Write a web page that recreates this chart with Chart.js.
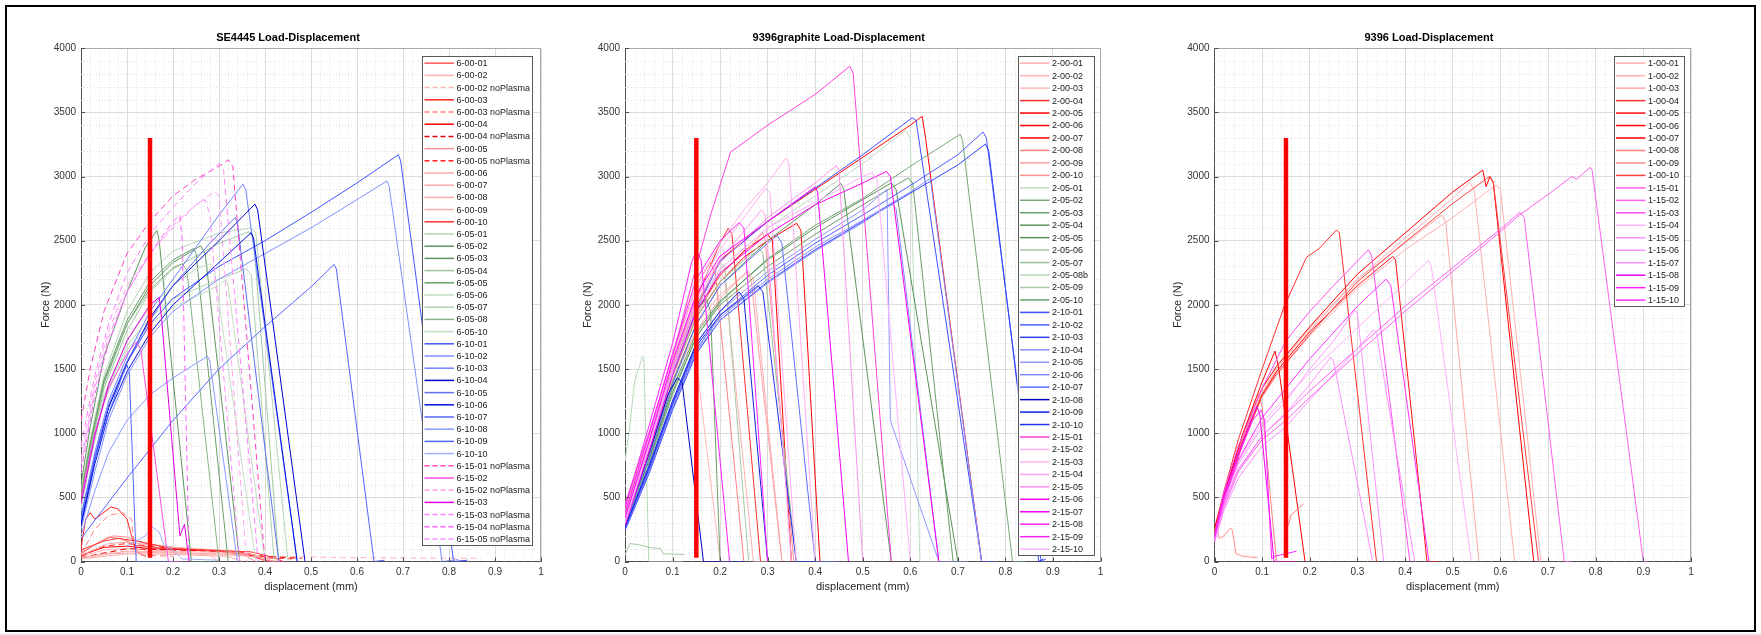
<!DOCTYPE html>
<html><head><meta charset="utf-8">
<script src="https://cdn.jsdelivr.net/npm/chart.js@4.4.1/dist/chart.umd.min.js"></script>
<style>
html,body{margin:0;padding:0;background:#fff;width:1761px;height:635px;overflow:hidden;position:relative;}
#frame{position:absolute;left:5px;top:5px;width:1747px;height:623px;border:2px solid #000;}
#strip{position:absolute;left:0;top:633px;width:1761px;height:2px;background:#eeeeee;}
canvas{position:absolute;top:8px;}
</style></head><body>
<div id="frame"></div><div id="strip"></div>
<canvas id="c1" width="552" height="617" style="left:8px"></canvas>
<canvas id="c2" width="580" height="617" style="left:560px"></canvas>
<canvas id="c3" width="600" height="617" style="left:1150px"></canvas>
<script>
// ---------- axis ticks ----------
const X_TICKS = [0,0.1,0.2,0.3,0.4,0.5,0.6,0.7,0.8,0.9,1];
const Y_TICKS = [0,500,1000,1500,2000,2500,3000,3500,4000];
const MARKER_LINE = [[0.15,30],[0.15,3300]];

// ---------- panel 1 : SE4445 ----------
const P1_TITLE = 'SE4445 Load-Displacement';
const P1_LABELS = ['6-00-01','6-00-02','6-00-02 noPlasma','6-00-03','6-00-03 noPlasma','6-00-04','6-00-04 noPlasma','6-00-05','6-00-05 noPlasma','6-00-06','6-00-07','6-00-08','6-00-09','6-00-10','6-05-01','6-05-02','6-05-03','6-05-04','6-05-05','6-05-06','6-05-07','6-05-08','6-05-10','6-10-01','6-10-02','6-10-03','6-10-04','6-10-05','6-10-06','6-10-07','6-10-08','6-10-09','6-10-10','6-15-01 noPlasma','6-15-02','6-15-02 noPlasma','6-15-03','6-15-03 noPlasma','6-15-04 noPlasma','6-15-05 noPlasma'];
const se_6_00_01 = [[0,60],[0.03,130],[0.06,190],[0.09,175],[0.12,125],[0.2,95],[0.3,80],[0.36,60],[0.4,10],[0.43,0]];
const se_6_00_02 = [[0,40],[0.05,90],[0.1,100],[0.2,80],[0.3,70],[0.38,40],[0.42,0]];
const se_6_00_02np = [[0,30],[0.05,70],[0.1,80],[0.25,60],[0.4,40],[0.6,30],[0.87,25]];
const se_6_00_03 = [[0,100],[0.01,330],[0.02,380],[0.03,330],[0.045,370],[0.065,425],[0.08,410],[0.1,330],[0.11,200],[0.12,80],[0.14,40]];
const se_6_00_03np = [[0,60],[0.03,250],[0.06,360],[0.09,380],[0.11,330],[0.115,150],[0.13,50],[0.2,40]];
const se_6_00_04 = [[0,50],[0.05,110],[0.1,120],[0.15,100],[0.25,90],[0.35,70],[0.39,20],[0.4,0]];
const se_6_00_04np = [[0,30],[0.1,100],[0.2,90],[0.3,80],[0.4,40],[0.48,25]];
const se_6_00_05 = [[0,70],[0.04,150],[0.07,200],[0.1,190],[0.14,140],[0.2,110],[0.3,80],[0.35,60],[0.38,0]];
const se_6_00_05np = [[0,40],[0.05,120],[0.1,140],[0.2,100],[0.35,75],[0.4,30],[0.46,20]];
const se_6_00_06 = [[0,30],[0.05,60],[0.15,70],[0.3,60],[0.4,30],[0.42,0]];
const se_6_00_07 = [[0,20],[0.1,60],[0.2,55],[0.32,40],[0.35,0]];
const se_6_00_08 = [[0,50],[0.06,140],[0.1,150],[0.2,110],[0.3,90],[0.38,50],[0.4,0]];
const se_6_00_09 = [[0,25],[0.1,80],[0.2,75],[0.28,50],[0.3,0]];
const se_6_00_10 = [[0,90],[0.05,160],[0.08,180],[0.12,160],[0.2,100],[0.3,85],[0.37,75],[0.42,30],[0.44,0]];
const se_6_05_01 = [[0,550],[0.02,950],[0.05,1450],[0.1,1950],[0.15,2250],[0.2,2420],[0.3,2560],[0.37,2600],[0.38,2560],[0.45,0]];
const se_6_05_02 = [[0,600],[0.02,1050],[0.05,1600],[0.1,2100],[0.14,2450],[0.165,2580],[0.17,2500],[0.24,0],[0.3,0]];
const se_6_05_03 = [[0,500],[0.02,900],[0.05,1400],[0.1,1850],[0.15,2150],[0.2,2330],[0.26,2460],[0.27,2400],[0.345,0]];
const se_6_05_04 = [[0,450],[0.02,850],[0.05,1350],[0.1,1800],[0.15,2100],[0.2,2280],[0.3,2480],[0.365,2570],[0.375,2520],[0.43,0]];
const se_6_05_05 = [[0,520],[0.02,920],[0.05,1420],[0.1,1880],[0.15,2180],[0.2,2350],[0.245,2440],[0.25,2400],[0.32,0]];
const se_6_05_06 = [[0,400],[0.02,780],[0.05,1250],[0.1,1650],[0.15,1850],[0.2,1980],[0.3,2150],[0.315,2200],[0.32,2150],[0.4,0]];
const se_6_05_07 = [[0,420],[0.02,800],[0.05,1280],[0.1,1680],[0.15,1900],[0.2,2050],[0.3,2200],[0.36,2280],[0.37,2230],[0.42,0]];
const se_6_05_08 = [[0,480],[0.02,880],[0.05,1380],[0.1,1850],[0.15,2120],[0.2,2290],[0.22,2320],[0.23,2270],[0.3,0]];
const se_6_05_10 = [[0,430],[0.02,820],[0.05,1300],[0.1,1720],[0.15,1980],[0.2,2150],[0.25,2280],[0.28,2320],[0.29,2270],[0.38,0]];
const se_6_10_01 = [[0,300],[0.03,800],[0.06,1200],[0.1,1550],[0.15,1850],[0.2,2050],[0.3,2300],[0.4,2500],[0.5,2720],[0.6,2950],[0.69,3170],[0.695,3120],[0.81,0],[0.84,10]];
const se_6_10_02 = [[0,250],[0.03,700],[0.06,1100],[0.1,1450],[0.15,1750],[0.2,1950],[0.3,2200],[0.4,2400],[0.5,2600],[0.6,2820],[0.665,2965],[0.67,2920],[0.785,0],[0.82,15]];
const se_6_10_03 = [[0,350],[0.03,850],[0.06,1250],[0.1,1600],[0.15,1950],[0.2,2200],[0.25,2450],[0.3,2700],[0.352,2940],[0.358,2900],[0.47,0]];
const se_6_10_04 = [[0,300],[0.03,800],[0.06,1200],[0.1,1550],[0.15,1900],[0.2,2150],[0.3,2500],[0.378,2785],[0.384,2740],[0.487,0]];
const se_6_10_05 = [[0,320],[0.03,820],[0.06,1220],[0.1,1560],[0.15,1880],[0.2,2150],[0.28,2480],[0.335,2680],[0.34,2640],[0.43,0]];
const se_6_10_06 = [[0,280],[0.03,760],[0.06,1150],[0.1,1480],[0.15,1780],[0.2,2000],[0.3,2330],[0.37,2563],[0.375,2520],[0.47,0]];
const se_6_10_07 = [[0,180],[0.1,650],[0.2,1100],[0.3,1500],[0.4,1830],[0.5,2140],[0.55,2315],[0.555,2280],[0.637,0],[0.66,10]];
const se_6_10_08 = [[0,200],[0.03,550],[0.06,850],[0.1,1100],[0.15,1300],[0.2,1430],[0.275,1600],[0.28,1560],[0.34,0]];
const se_6_10_09 = [[0,350],[0.03,800],[0.06,1150],[0.09,1450],[0.1,1530],[0.105,1480],[0.12,0],[0.2,0]];
const se_6_10_10 = [[0.1,120],[0.12,160],[0.14,200],[0.155,270],[0.17,230],[0.18,130],[0.2,90],[0.22,20],[0.3,10]];
const se_6_15_01np = [[0,1100],[0.02,1500],[0.05,1950],[0.1,2400],[0.15,2650],[0.2,2850],[0.25,2980],[0.3,3080],[0.32,3130],[0.33,3080],[0.4,0],[0.45,0]];
const se_6_15_02 = [[0,500],[0.03,1000],[0.06,1350],[0.1,1620],[0.12,1710],[0.13,1650],[0.19,0],[0.22,0]];
const se_6_15_02np = [[0,800],[0.03,1400],[0.06,1800],[0.1,2150],[0.15,2400],[0.2,2600],[0.25,2780],[0.29,2880],[0.3,2850],[0.36,0]];
const se_6_15_03 = [[0,450],[0.03,980],[0.06,1380],[0.1,1720],[0.15,2000],[0.17,2060],[0.175,1900],[0.215,200],[0.225,290],[0.235,0]];
const se_6_15_03np = [[0,900],[0.03,1450],[0.06,1850],[0.1,2250],[0.15,2550],[0.2,2760],[0.25,2950],[0.3,3100],[0.31,3050],[0.385,0]];
const se_6_15_04np = [[0,700],[0.03,1300],[0.06,1700],[0.1,2100],[0.15,2400],[0.2,2650],[0.215,2700],[0.22,2500],[0.235,0]];
const se_6_15_05np = [[0,750],[0.03,1350],[0.06,1750],[0.1,2100],[0.15,2400],[0.2,2620],[0.25,2780],[0.27,2820],[0.28,2700],[0.345,0]];
const P1_SERIES = [se_6_00_01,se_6_00_02,se_6_00_02np,se_6_00_03,se_6_00_03np,se_6_00_04,se_6_00_04np,se_6_00_05,se_6_00_05np,se_6_00_06,se_6_00_07,se_6_00_08,se_6_00_09,se_6_00_10,se_6_05_01,se_6_05_02,se_6_05_03,se_6_05_04,se_6_05_05,se_6_05_06,se_6_05_07,se_6_05_08,se_6_05_10,se_6_10_01,se_6_10_02,se_6_10_03,se_6_10_04,se_6_10_05,se_6_10_06,se_6_10_07,se_6_10_08,se_6_10_09,se_6_10_10,se_6_15_01np,se_6_15_02,se_6_15_02np,se_6_15_03,se_6_15_03np,se_6_15_04np,se_6_15_05np];
const P1_STYLE = [['#ff5a5a',0],['#ffb4b4',0],['#ffb4b4',1],['#ff2020',0],['#ff8080',1],['#ff0000',0],['#e00000',1],['#ff9090',0],['#ff2020',1],['#ffaaaa',0],['#ffaaaa',0],['#ffaaaa',0],['#ffb0b0',0],['#ff3030',0],
['#b5d5b5',0],['#5e955e',0],['#5e955e',0],['#a0c8a0',0],['#6a9f6a',0],['#c5dcc5',0],['#b0d0b0',0],['#88b488',0],['#c5dcc5',0],
['#4055ff',0],['#8090ff',0],['#7080ff',0],['#0000d0',0],['#6070f0',0],['#0010e0',0],['#5565ff',0],['#8898ff',0],['#5068ff',0],['#a0b0ff',0],
['#ff40c0',1],['#ff50e0',0],['#ffa0f0',1],['#e000e0',0],['#ff80ff',1],['#ff60ff',1],['#ff90ff',1]];

// ---------- panel 2 : 9396graphite ----------
const P2_TITLE = '9396graphite Load-Displacement';
const P2_LABELS = ['2-00-01','2-00-02','2-00-03','2-00-04','2-00-05','2-00-06','2-00-07','2-00-08','2-00-09','2-00-10','2-05-01','2-05-02','2-05-03','2-05-04','2-05-05','2-05-06','2-05-07','2-05-08b','2-05-09','2-05-10','2-10-01','2-10-02','2-10-03','2-10-04','2-10-05','2-10-06','2-10-07','2-10-08','2-10-09','2-10-10','2-15-01','2-15-02','2-15-03','2-15-04','2-15-05','2-15-06','2-15-07','2-15-08','2-15-09','2-15-10'];
const g_2_00_01 = [[0,350],[0.05,900],[0.1,1500],[0.15,1950],[0.2,2250],[0.21,2200],[0.27,0],[0.3,0]];
const g_2_00_02 = [[0,300],[0.05,850],[0.1,1420],[0.15,1850],[0.2,2080],[0.26,2260],[0.27,2200],[0.33,0]];
const g_2_00_03 = [[0,400],[0.05,950],[0.1,1560],[0.14,2150],[0.15,2200],[0.152,1500],[0.2,0],[0.22,0]];
const g_2_00_04 = [[0,380],[0.05,920],[0.1,1530],[0.15,2050],[0.2,2480],[0.217,2597],[0.225,2550],[0.285,0]];
const g_2_00_05 = [[0,330],[0.05,860],[0.1,1450],[0.15,1900],[0.2,2180],[0.25,2370],[0.3,2500],[0.361,2636],[0.37,2580],[0.41,0]];
const g_2_00_06 = [[0,350],[0.05,870],[0.1,1500],[0.15,1980],[0.2,2350],[0.3,2650],[0.4,2900],[0.5,3150],[0.6,3400],[0.625,3470],[0.632,3300],[0.75,0],[0.76,0]];
const g_2_00_07 = [[0,360],[0.05,880],[0.1,1480],[0.15,1950],[0.2,2230],[0.25,2420],[0.3,2550],[0.31,2500],[0.35,0]];
const g_2_00_08 = [[0,420],[0.05,980],[0.1,1600],[0.15,2150],[0.179,2330],[0.19,2250],[0.25,0]];
const g_2_00_09 = [[0,300],[0.05,820],[0.1,1400],[0.15,1800],[0.2,2050],[0.256,2260],[0.265,2200],[0.33,0]];
const g_2_00_10 = [[0,330],[0.05,860],[0.1,1460],[0.15,1920],[0.2,2230],[0.27,2480],[0.29,2560],[0.295,2500],[0.355,0]];
const g_2_05_01 = [[0,320],[0.05,850],[0.1,1450],[0.15,1920],[0.2,2280],[0.3,2600],[0.4,2850],[0.5,3100],[0.59,3360],[0.6,3300],[0.62,0],[0.66,0]];
const g_2_05_02 = [[0,280],[0.05,760],[0.1,1300],[0.15,1750],[0.2,2020],[0.3,2360],[0.4,2620],[0.5,2830],[0.6,3080],[0.705,3330],[0.71,3280],[0.815,0],[0.84,0]];
const g_2_05_03 = [[0,300],[0.05,780],[0.1,1320],[0.15,1750],[0.2,2000],[0.3,2300],[0.4,2550],[0.5,2780],[0.596,2990],[0.605,2950],[0.69,0]];
const g_2_05_04 = [[0,320],[0.05,820],[0.1,1400],[0.15,1850],[0.2,2150],[0.3,2500],[0.4,2780],[0.454,2947],[0.46,2900],[0.56,0]];
const g_2_05_05 = [[0,300],[0.05,790],[0.1,1350],[0.15,1780],[0.2,2030],[0.3,2350],[0.4,2600],[0.5,2820],[0.56,2950],[0.57,2900],[0.7,0]];
const g_2_05_06 = [[0,380],[0.05,900],[0.1,1500],[0.15,2000],[0.2,2330],[0.21,2290],[0.26,0]];
const g_2_05_07 = [[0,340],[0.05,860],[0.1,1450],[0.15,1900],[0.2,2180],[0.28,2450],[0.29,2400],[0.36,0]];
const g_2_05_08b = [[0,780],[0.01,1050],[0.02,1400],[0.03,1520],[0.037,1600],[0.04,1550],[0.05,0],[0.12,0]];
const g_2_05_09 = [[0,50],[0.01,140],[0.03,130],[0.05,110],[0.075,100],[0.08,60],[0.125,55]];
const g_2_05_10 = [[0,350],[0.05,880],[0.1,1480],[0.15,1950],[0.17,2050],[0.18,1950],[0.2,0],[0.25,0]];
const g_2_10_01 = [[0,300],[0.05,850],[0.1,1480],[0.15,1960],[0.2,2340],[0.3,2650],[0.4,2910],[0.5,3170],[0.604,3458],[0.612,3440],[0.75,0],[0.78,0]];
const g_2_10_02 = [[0,250],[0.05,700],[0.1,1200],[0.15,1650],[0.2,1920],[0.3,2230],[0.4,2480],[0.5,2700],[0.6,2930],[0.7,3170],[0.753,3347],[0.76,3300],[0.825,1400],[0.875,0],[0.885,20]];
const g_2_10_03 = [[0,240],[0.05,680],[0.1,1180],[0.15,1620],[0.2,1880],[0.3,2180],[0.4,2430],[0.5,2650],[0.6,2870],[0.7,3090],[0.758,3253],[0.765,3200],[0.87,0],[0.88,20]];
const g_2_10_04 = [[0,260],[0.05,720],[0.1,1220],[0.15,1660],[0.2,1900],[0.3,2200],[0.4,2450],[0.5,2660],[0.6,2880],[0.642,2985],[0.75,0]];
const g_2_10_05 = [[0,280],[0.05,740],[0.1,1250],[0.15,1700],[0.2,1950],[0.3,2260],[0.4,2510],[0.5,2740],[0.551,2900],[0.558,1100],[0.66,0],[0.72,0]];
const g_2_10_06 = [[0,250],[0.05,700],[0.1,1200],[0.15,1640],[0.2,1880],[0.3,2170],[0.4,2420],[0.5,2640],[0.56,2790],[0.57,2750],[0.66,0]];
const g_2_10_07 = [[0,300],[0.05,800],[0.1,1380],[0.15,1850],[0.2,2150],[0.3,2480],[0.32,2540],[0.33,2480],[0.4,0],[0.45,0]];
const g_2_10_08 = [[0,300],[0.03,620],[0.06,950],[0.09,1300],[0.11,1430],[0.12,1400],[0.165,0],[0.25,0]];
const g_2_10_09 = [[0,270],[0.05,740],[0.1,1250],[0.15,1700],[0.2,1950],[0.24,2100],[0.25,2050],[0.3,0]];
const g_2_10_10 = [[0,260],[0.05,720],[0.1,1230],[0.15,1680],[0.2,1920],[0.25,2060],[0.28,2150],[0.29,2100],[0.36,0],[0.4,0]];
const g_2_15_01 = [[0,450],[0.05,1000],[0.1,1600],[0.15,2300],[0.18,2700],[0.222,3190],[0.3,3400],[0.4,3640],[0.473,3860],[0.48,3800],[0.56,0]];
const g_2_15_02 = [[0,350],[0.05,950],[0.1,1580],[0.15,2150],[0.2,2480],[0.25,2740],[0.3,2950],[0.338,3143],[0.345,3100],[0.4,0]];
const g_2_15_03 = [[0,330],[0.05,920],[0.1,1550],[0.15,2100],[0.2,2430],[0.25,2680],[0.296,2909],[0.305,2870],[0.36,0]];
const g_2_15_04 = [[0,320],[0.05,900],[0.1,1520],[0.15,2050],[0.2,2350],[0.287,2740],[0.295,2700],[0.35,0]];
const g_2_15_05 = [[0,300],[0.05,880],[0.1,1500],[0.15,2020],[0.2,2330],[0.3,2680],[0.4,2950],[0.444,3085],[0.45,3050],[0.5,0]];
const g_2_15_06 = [[0,280],[0.05,850],[0.1,1450],[0.15,1950],[0.2,2250],[0.3,2550],[0.4,2780],[0.5,2950],[0.55,3040],[0.558,3000],[0.66,0]];
const g_2_15_07 = [[0,340],[0.05,930],[0.1,1560],[0.15,2080],[0.2,2380],[0.3,2650],[0.4,2920],[0.405,2880],[0.47,0]];
const g_2_15_08 = [[0,420],[0.05,1050],[0.1,1700],[0.14,2330],[0.15,2420],[0.16,2350],[0.22,0]];
const g_2_15_09 = [[0,380],[0.05,980],[0.1,1620],[0.15,2200],[0.2,2500],[0.24,2640],[0.25,2600],[0.3,0]];
const g_2_15_10 = [[0,300],[0.05,880],[0.1,1480],[0.15,1980],[0.2,2280],[0.3,2600],[0.4,2800],[0.5,3000],[0.52,3030],[0.53,2980],[0.6,0]];
const P2_SERIES = [g_2_00_01,g_2_00_02,g_2_00_03,g_2_00_04,g_2_00_05,g_2_00_06,g_2_00_07,g_2_00_08,g_2_00_09,g_2_00_10,g_2_05_01,g_2_05_02,g_2_05_03,g_2_05_04,g_2_05_05,g_2_05_06,g_2_05_07,g_2_05_08b,g_2_05_09,g_2_05_10,g_2_10_01,g_2_10_02,g_2_10_03,g_2_10_04,g_2_10_05,g_2_10_06,g_2_10_07,g_2_10_08,g_2_10_09,g_2_10_10,g_2_15_01,g_2_15_02,g_2_15_03,g_2_15_04,g_2_15_05,g_2_15_06,g_2_15_07,g_2_15_08,g_2_15_09,g_2_15_10];
const P2_STYLE = [['#ffb0b0',0],['#ffb0b0',0],['#ffb8b8',0],['#ff3030',0],['#ff0000',0],['#ff0000',0],['#ff0000',0],['#ff8080',0],['#ffa0a0',0],['#ff9090',0],
['#c0dcc0',0],['#78a878',0],['#6a9f6a',0],['#5e955e',0],['#5a925a',0],['#a8c8a8',0],['#98c098',0],['#b8d8b8',0],['#a8c8a8',0],['#6a9f6a',0],
['#4050ff',0],['#5060ff',0],['#3040ff',0],['#8890ff',0],['#9098ff',0],['#8088ff',0],['#6070ff',0],['#0000c0',0],['#1020e0',0],['#2030f0',0],
['#ff40e0',0],['#ffb0f0',0],['#ffb0f0',0],['#ffa0f0',0],['#ff90f0',0],['#ff00ee',0],['#ff00ff',0],['#ff20ff',0],['#ff20ff',0],['#ffb0ff',0]];

// ---------- panel 3 : 9396 ----------
const P3_TITLE = '9396 Load-Displacement';
const P3_LABELS = ['1-00-01','1-00-02','1-00-03','1-00-04','1-00-05','1-00-06','1-00-07','1-00-08','1-00-09','1-00-10','1-15-01','1-15-02','1-15-03','1-15-04','1-15-05','1-15-06','1-15-07','1-15-08','1-15-09','1-15-10'];
const n_1_00_01 = [[0,220],[0.03,600],[0.06,950],[0.1,1300],[0.13,1480],[0.2,1800],[0.3,2200],[0.4,2520],[0.5,2830],[0.535,2953],[0.545,2900],[0.63,0]];
const n_1_00_02 = [[0,200],[0.03,580],[0.06,920],[0.1,1280],[0.13,1450],[0.2,1760],[0.3,2130],[0.4,2430],[0.5,2680],[0.591,2935],[0.6,2900],[0.685,0]];
const n_1_00_03 = [[0,230],[0.03,620],[0.06,970],[0.1,1320],[0.13,1500],[0.2,1820],[0.3,2200],[0.4,2480],[0.477,2700],[0.485,2650],[0.555,0]];
const n_1_00_04 = [[0,250],[0.02,550],[0.05,950],[0.1,1500],[0.146,1985],[0.193,2370],[0.22,2440],[0.256,2584],[0.262,2560],[0.34,0]];
const n_1_00_05 = [[0,210],[0.03,600],[0.06,950],[0.1,1300],[0.13,1480],[0.2,1790],[0.3,2150],[0.374,2377],[0.38,2350],[0.446,0],[0.47,0]];
const n_1_00_06 = [[0,240],[0.03,640],[0.06,1000],[0.1,1350],[0.13,1520],[0.2,1830],[0.3,2240],[0.4,2560],[0.5,2880],[0.563,3050],[0.57,2920],[0.578,3000],[0.585,2950],[0.67,0]];
const n_1_00_07 = [[0,260],[0.03,650],[0.06,1000],[0.1,1400],[0.127,1640],[0.135,1500],[0.19,0]];
const n_1_00_08 = [[0,230],[0.03,620],[0.06,960],[0.094,1310],[0.1,1200],[0.13,0],[0.14,null],[0.155,280],[0.16,360],[0.187,450]];
const n_1_00_09 = [[0,150],[0.005,260],[0.01,180],[0.02,200],[0.033,260],[0.037,250],[0.045,60],[0.06,40],[0.09,30]];
const n_1_00_10 = [[0,200],[0.03,590],[0.06,930],[0.1,1290],[0.13,1460],[0.2,1770],[0.3,2180],[0.4,2490],[0.5,2790],[0.577,3000],[0.585,2960],[0.68,0]];
const n_1_15_01 = [[0,150],[0.02,420],[0.05,700],[0.1,950],[0.15,1100],[0.2,1280],[0.3,1620],[0.4,1950],[0.5,2260],[0.6,2570],[0.64,2700],[0.7,2860],[0.75,3000],[0.76,2980],[0.788,3070],[0.792,3060],[0.9,0],[0.91,0]];
const n_1_15_02 = [[0,170],[0.02,450],[0.05,720],[0.1,980],[0.15,1150],[0.2,1330],[0.3,1660],[0.4,1990],[0.5,2290],[0.6,2590],[0.641,2721],[0.65,2680],[0.734,0],[0.75,0]];
const n_1_15_03 = [[0,200],[0.02,550],[0.05,900],[0.1,1350],[0.15,1720],[0.2,1950],[0.25,2150],[0.323,2429],[0.33,2380],[0.41,0]];
const n_1_15_04 = [[0,180],[0.02,480],[0.05,780],[0.1,1080],[0.15,1280],[0.2,1470],[0.3,1820],[0.4,2170],[0.449,2346],[0.455,2300],[0.539,0]];
const n_1_15_05 = [[0,170],[0.02,470],[0.05,760],[0.1,1050],[0.15,1250],[0.2,1500],[0.25,1720],[0.295,1959],[0.3,1930],[0.355,0]];
const n_1_15_06 = [[0,150],[0.02,400],[0.05,650],[0.1,900],[0.15,1050],[0.2,1260],[0.3,1660],[0.333,1804],[0.34,1780],[0.42,0]];
const n_1_15_07 = [[0,160],[0.02,430],[0.05,700],[0.1,980],[0.15,1160],[0.2,1380],[0.244,1592],[0.25,1560],[0.332,0]];
const n_1_15_08 = [[0,200],[0.02,520],[0.05,850],[0.089,1209],[0.095,1150],[0.125,0],[0.17,0]];
const n_1_15_09 = [[0,190],[0.02,500],[0.05,820],[0.08,1100],[0.098,1180],[0.105,1100],[0.12,20],[0.125,40],[0.172,80]];
const n_1_15_10 = [[0,180],[0.02,480],[0.05,790],[0.1,1120],[0.15,1350],[0.2,1580],[0.3,1990],[0.36,2200],[0.37,2150],[0.45,0]];
const P3_SERIES = [n_1_00_01,n_1_00_02,n_1_00_03,n_1_00_04,n_1_00_05,n_1_00_06,n_1_00_07,n_1_00_08,n_1_00_09,n_1_00_10,n_1_15_01,n_1_15_02,n_1_15_03,n_1_15_04,n_1_15_05,n_1_15_06,n_1_15_07,n_1_15_08,n_1_15_09,n_1_15_10];
const P3_STYLE = [['#ffb0b0',0],['#ffb0b0',0],['#ffa8a8',0],['#ff3030',0],['#ff1010',0],['#ff0000',0],['#ff0000',0],['#ff8080',0],['#ff9090',0],['#ff4040',0],
['#ff60f0',0],['#ff60f0',0],['#ff50f0',0],['#ffb0ff',0],['#ff90ff',0],['#ff90ff',0],['#ff90ff',0],['#ee00ee',0],['#ff20ff',0],['#ff30ff',0]];

// ---------- rendering ----------
Chart.defaults.font.family = "'Liberation Sans', Arial, Helvetica, sans-serif";
Chart.defaults.color = '#262626';

const minorGrid = {
  id: 'minorGrid',
  beforeDatasetsDraw(chart) {
    const {ctx, chartArea: a, scales: {x, y}} = chart;
    ctx.save();
    ctx.strokeStyle = '#e3e3e3'; ctx.lineWidth = 1; ctx.setLineDash([1, 2]);
    ctx.beginPath();
    for (let i = 1; i < 50; i++) {
      if (i % 5 === 0) continue;
      const px = Math.round(x.getPixelForValue(i / 50)) + 0.5;
      ctx.moveTo(px, a.top); ctx.lineTo(px, a.bottom);
    }
    for (let j = 1; j < 40; j++) {
      if (j % 5 === 0) continue;
      const py = Math.round(y.getPixelForValue(j * 100)) + 0.5;
      ctx.moveTo(a.left, py); ctx.lineTo(a.right, py);
    }
    ctx.stroke(); ctx.restore();
  }
};

const axesBox = {
  id: 'axesBox',
  afterDatasetsDraw(chart) {
    const {ctx, chartArea: a, scales: {x, y}} = chart;
    ctx.save();
    ctx.lineWidth = 1;
    ctx.strokeStyle = '#a8a8a8';
    ctx.beginPath();
    ctx.moveTo(a.left, Math.round(a.top) + 0.5); ctx.lineTo(a.right, Math.round(a.top) + 0.5);
    ctx.moveTo(Math.round(a.right) - 0.5, a.top); ctx.lineTo(Math.round(a.right) - 0.5, a.bottom);
    ctx.stroke();
    ctx.strokeStyle = '#4d4d4d';
    ctx.beginPath();
    X_TICKS.forEach(v => { const px = Math.round(x.getPixelForValue(v)) + 0.5; ctx.moveTo(px, a.bottom); ctx.lineTo(px, a.bottom - 4); });
    Y_TICKS.forEach(v => { const py = Math.round(y.getPixelForValue(v)) + 0.5; ctx.moveTo(a.left, py); ctx.lineTo(a.left + 4, py); });
    ctx.stroke();
    ctx.restore();
  }
};

const boxLegend = {
  id: 'boxLegend',
  afterDraw(chart, args, o) {
    const {ctx, chartArea: a} = chart;
    const items = chart.data.datasets.filter(d => d.label);
    const right = a.right - o.dx, left = right - o.width, top = a.top + o.dy;
    const h = 7 + (items.length - 1) * o.rowH + 6;
    ctx.save();
    ctx.fillStyle = '#ffffff';
    ctx.fillRect(left, top, o.width, h);
    ctx.strokeStyle = '#5a5a5a'; ctx.lineWidth = 1;
    ctx.strokeRect(Math.round(left) + 0.5, Math.round(top) + 0.5, Math.round(o.width), Math.round(h));
    ctx.font = "9px 'Liberation Sans', Arial, sans-serif";
    ctx.textBaseline = 'middle'; ctx.textAlign = 'left';
    items.forEach((d, i) => {
      const cy = top + 7 + i * o.rowH;
      ctx.strokeStyle = d.borderColor; ctx.lineWidth = 1.5;
      ctx.setLineDash(d.borderDash && d.borderDash.length ? [5, 3] : []);
      ctx.beginPath(); ctx.moveTo(left + 2.5, cy); ctx.lineTo(left + 32, cy); ctx.stroke();
      ctx.setLineDash([]);
      ctx.fillStyle = '#1a1a1a';
      ctx.fillText(d.label, left + 34.5, cy + 0.5);
    });
    ctx.restore();
  }
};

function makeChart(id, title, labels, series, styles, lay) {
  const datasets = series.map((pts, i) => ({
    label: labels[i],
    data: pts,
    borderColor: styles[i][0],
    borderDash: styles[i][1] ? [6, 4] : [],
    borderWidth: 1,
    pointRadius: 0,
    fill: false,
    tension: 0,
    spanGaps: false,
    order: -i
  }));
  datasets.push({label: '', data: MARKER_LINE, borderColor: '#ff0000', borderWidth: 4.5, pointRadius: 0, order: -1000});
  return new Chart(document.getElementById(id), {
    type: 'line',
    data: {datasets},
    options: {
      responsive: false,
      animation: false,
      events: [],
      layout: {padding: {left: lay.pl, right: lay.pr, top: 0, bottom: 27.5}},
      plugins: {
        legend: {display: false},
        tooltip: {enabled: false},
        title: {display: true, text: title, color: '#000', font: {size: 11, weight: 'bold'}, padding: {top: 23, bottom: 4}},
        boxLegend: lay.legend
      },
      scales: {
        x: {
          type: 'linear', min: 0, max: 1,
          afterBuildTicks: s => { s.ticks = X_TICKS.map(v => ({value: v})); },
          afterFit: s => { s.height = 36; },
          ticks: {autoSkip: false, maxRotation: 0, padding: 5, color: '#333', font: {size: 10}, callback: v => String(v)},
          grid: {color: '#dcdcdc', drawTicks: false},
          border: {color: '#4d4d4d'},
          title: {display: true, text: 'displacement (mm)', color: '#262626', font: {size: 11}, padding: {top: 4, bottom: 4}}
        },
        y: {
          type: 'linear', min: 0, max: 4000,
          afterBuildTicks: s => { s.ticks = Y_TICKS.map(v => ({value: v})); },
          afterFit: s => { s.width = lay.yw; },
          ticks: {autoSkip: false, padding: 5, color: '#333', font: {size: 10}, callback: v => String(v)},
          grid: {color: '#dcdcdc', drawTicks: false},
          border: {color: '#4d4d4d'},
          title: {display: true, text: 'Force (N)', color: '#262626', font: {size: 11}, padding: {top: 4, bottom: 4}}
        }
      }
    },
    plugins: [minorGrid, axesBox, boxLegend]
  });
}

makeChart('c1', P1_TITLE, P1_LABELS, P1_SERIES, P1_STYLE,
  {pl: 27, yw: 46, pr: 19, legend: {dx: 9, dy: 8, width: 110, rowH: 12.2}});
makeChart('c2', P2_TITLE, P2_LABELS, P2_SERIES, P2_STYLE,
  {pl: 17, yw: 48, pr: 39.5, legend: {dx: 7.5, dy: 8, width: 75.5, rowH: 12.46}});
makeChart('c3', P3_TITLE, P3_LABELS, P3_SERIES, P3_STYLE,
  {pl: 17, yw: 47.5, pr: 59, legend: {dx: 7.5, dy: 8, width: 70, rowH: 12.47}});
</script>
</body></html>
